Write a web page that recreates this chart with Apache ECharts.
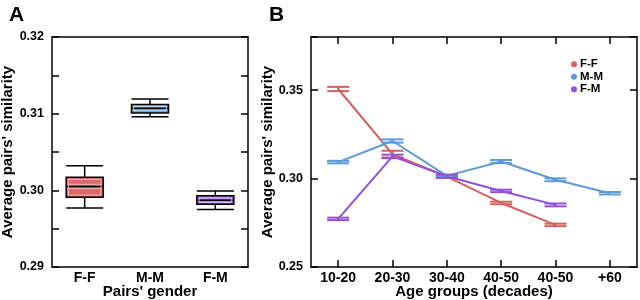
<!DOCTYPE html>
<html>
<head>
<meta charset="utf-8">
<script src="https://cdn.jsdelivr.net/npm/echarts@6/dist/echarts.min.js"></script>
<style>html,body{margin:0;padding:0;background:#fff}#c{width:640px;height:300px}</style>
</head>
<body>
<div id="c"></div>
<script>
// Panel A data
const genderCats = ['F-F', 'M-M', 'F-M'];
// [min, Q1, median, Q3, max]
const boxFF = [0.2977, 0.2991, 0.3005, 0.3017, 0.3032];
const boxMM = [0.3096, 0.3101, 0.3107, 0.3112, 0.3119];
const boxFM = [0.2975, 0.2982, 0.2987, 0.2993, 0.2999];
const boxColors = ['#d86a6b', '#5e9bd8', '#9b5bd9'];
const boxLight = ['#f2b3b3', '#b5d3f2', '#d3b5f2'];
const yTicksA = ['0.29', '0.30', '0.31', '0.32'];

// Panel B data
const ageCats = ['10-20', '20-30', '30-40', '40-50', '40-50', '+60'];
const seriesNames = ['F-F', 'M-M', 'F-M'];
const ffVals = [0.3506, 0.3138, 0.3011, 0.2862, 0.2738];
const mmVals = [0.3093, 0.3212, 0.3015, 0.3096, 0.2993, 0.2917];
const fmVals = [0.2772, 0.3125, 0.3013, 0.2930, 0.2851];
const ffErr = [0.0012, 0.0019, 0.0006, 0.0007, 0.0007];
const mmErr = [0.0007, 0.0009, 0.0005, 0.0009, 0.0008, 0.0007];
const fmErr = [0.0007, 0.0010, 0.0009, 0.0007, 0.0008];
const lineColors = ['#d65f5f', '#5b9bd8', '#9350d8'];
const yTicksB = ['0.25', '0.30', '0.35'];

const FONT = '"Liberation Sans", Arial, Helvetica, sans-serif';
const axisLine = {show: true, lineStyle: {color: '#000', width: 1.5}};
const yLabelStyle = {color: '#000', fontFamily: FONT, fontWeight: 'bold', fontSize: 12.5};
const xLabelStyle = {color: '#000', fontFamily: FONT, fontWeight: 'bold', fontSize: 14};
const nameStyle = {color: '#000', fontFamily: FONT, fontWeight: 'bold', fontSize: 15};
const tickStyle = {show: true, inside: true, length: 7, lineStyle: {color: '#000', width: 1.5}};

function errSeries(vals, errs, color, xi, yi) {
  return {
    type: 'custom', xAxisIndex: xi, yAxisIndex: yi, z: 5,
    data: vals.map((v, i) => [i, v, errs[i]]),
    encode: {x: 0, y: 1},
    renderItem: function (params, api) {
      const i = api.value(0), v = api.value(1), e = api.value(2);
      const t = api.coord([i, v + e]);
      const b = api.coord([i, v - e]);
      const hw = 11;
      const st = {stroke: color, lineWidth: 2};
      return {type: 'group', children: [
        {type: 'line', shape: {x1: t[0] - hw, y1: t[1], x2: t[0] + hw, y2: t[1]}, style: st},
        {type: 'line', shape: {x1: b[0] - hw, y1: b[1], x2: b[0] + hw, y2: b[1]}, style: st},
        {type: 'line', shape: {x1: t[0], y1: t[1], x2: b[0], y2: b[1]}, style: st}
      ]};
    }
  };
}

const boxes = [boxFF, boxMM, boxFM];

const chart = echarts.init(document.getElementById('c'), null, {renderer: 'canvas'});
const option = {
  animation: false,
  backgroundColor: '#fff',
  title: [
    {text: 'A', left: 4, top: 0, textStyle: {fontFamily: FONT, fontWeight: 'bold', fontSize: 21, color: '#000'}},
    {text: 'B', left: 264, top: 0, textStyle: {fontFamily: FONT, fontWeight: 'bold', fontSize: 21, color: '#000'}}
  ],
  legend: {
    orient: 'vertical', left: 566, top: 53, itemWidth: 6, itemHeight: 6, itemGap: 0,
    icon: 'circle', data: seriesNames,
    textStyle: {color: '#000', fontFamily: FONT, fontWeight: 'bold', fontSize: 11.5, lineHeight: 12.5, padding: [0, 0, 0, -2]}
  },
  grid: [
    {left: 52, top: 37, width: 196, height: 230, outerBoundsMode: 'none', containLabel: false},
    {left: 311, top: 37, width: 326, height: 230, outerBoundsMode: 'none', containLabel: false}
  ],
  xAxis: [
    {type: 'category', gridIndex: 0, data: genderCats, position: 'bottom',
     axisLine: axisLine, axisTick: {show: false}, axisLabel: Object.assign({margin: 4}, xLabelStyle),
     name: "Pairs' gender", nameLocation: 'middle', nameGap: 17, nameMoveOverlap: false, nameTextStyle: nameStyle},
    {type: 'category', gridIndex: 0, data: genderCats, position: 'top',
     axisLine: axisLine, axisTick: {show: false}, axisLabel: {show: false}},
    {type: 'category', gridIndex: 1, data: ageCats, position: 'bottom',
     axisLine: axisLine, axisTick: Object.assign({alignWithLabel: true}, tickStyle),
     axisLabel: Object.assign({margin: 4, interval: 0}, xLabelStyle),
     name: 'Age groups (decades)', nameLocation: 'middle', nameGap: 17, nameMoveOverlap: false, nameTextStyle: nameStyle},
    {type: 'category', gridIndex: 1, data: ageCats, position: 'top',
     axisLine: axisLine, axisTick: Object.assign({alignWithLabel: true}, tickStyle),
     axisLabel: {show: false}}
  ],
  yAxis: [
    {type: 'value', gridIndex: 0, min: 0.29, max: 0.32, interval: 0.005, position: 'left',
     axisLine: axisLine, splitLine: {show: false}, axisTick: tickStyle,
     axisLabel: Object.assign({margin: 8, formatter: function (v) {
       return yTicksA.find(t => Math.abs(+t - v) < 1e-6) || '';
     }}, yLabelStyle),
     name: "Average pairs' similarity", nameLocation: 'middle', nameGap: 37, nameMoveOverlap: false, nameTextStyle: nameStyle},
    {type: 'value', gridIndex: 0, min: 0.29, max: 0.32, interval: 0.005, position: 'right',
     axisLine: axisLine, splitLine: {show: false}, axisTick: tickStyle, axisLabel: {show: false}},
    {type: 'value', gridIndex: 1, min: 0.25, max: 0.38, interval: 0.05, position: 'left',
     axisLine: axisLine, splitLine: {show: false}, axisTick: tickStyle,
     axisLabel: Object.assign({margin: 8, formatter: function (v) {
       return yTicksB.find(t => Math.abs(+t - v) < 1e-6) || '';
     }}, yLabelStyle),
     name: "Average pairs' similarity", nameLocation: 'middle', nameGap: 36, nameMoveOverlap: false, nameTextStyle: nameStyle},
    {type: 'value', gridIndex: 1, min: 0.25, max: 0.38, interval: 0.05, position: 'right',
     axisLine: axisLine, splitLine: {show: false}, axisTick: tickStyle, axisLabel: {show: false}}
  ],
  series: [
    {type: 'boxplot', xAxisIndex: 0, yAxisIndex: 0, boxWidth: [37, 37],
     data: boxes.map((b, i) => ({value: b, itemStyle: {color: boxColors[i], borderColor: '#000', borderWidth: 1.5}}))},
    {type: 'custom', xAxisIndex: 0, yAxisIndex: 0, z: 5, silent: true,
     data: boxes.map((b, i) => [i, b[1], b[2], b[3]]),
     encode: {x: 0, y: [1, 2, 3]},
     renderItem: function (params, api) {
       const i = api.value(0);
       const q1 = api.coord([i, api.value(1)]);
       const md = api.coord([i, api.value(2)]);
       const q3 = api.coord([i, api.value(3)]);
       const hw = 18.5 - 2.2;
       const st = {stroke: boxLight[params.dataIndex], lineWidth: 1, fill: null};
       const x0 = q1[0] - hw, x1 = q1[0] + hw;
       return {type: 'group', children: [
         {type: 'rect', shape: {x: x0, y: q3[1] + 2.2, width: 2 * hw, height: q1[1] - q3[1] - 4.4}, style: st},
         {type: 'line', shape: {x1: x0, y1: md[1] - 2.2, x2: x1, y2: md[1] - 2.2}, style: st},
         {type: 'line', shape: {x1: x0, y1: md[1] + 2.2, x2: x1, y2: md[1] + 2.2}, style: st}
       ]};
     }},
    {name: seriesNames[0], type: 'line', xAxisIndex: 2, yAxisIndex: 2, data: ffVals, color: lineColors[0],
     showSymbol: false, lineStyle: {width: 2}},
    {name: seriesNames[1], type: 'line', xAxisIndex: 2, yAxisIndex: 2, data: mmVals, color: lineColors[1],
     showSymbol: false, lineStyle: {width: 2}},
    {name: seriesNames[2], type: 'line', xAxisIndex: 2, yAxisIndex: 2, data: fmVals, color: lineColors[2],
     showSymbol: false, lineStyle: {width: 2}},
    errSeries(ffVals, ffErr, lineColors[0], 2, 2),
    errSeries(mmVals, mmErr, lineColors[1], 2, 2),
    errSeries(fmVals, fmErr, lineColors[2], 2, 2)
  ]
};
chart.setOption(option);
</script>
</body>
</html>
